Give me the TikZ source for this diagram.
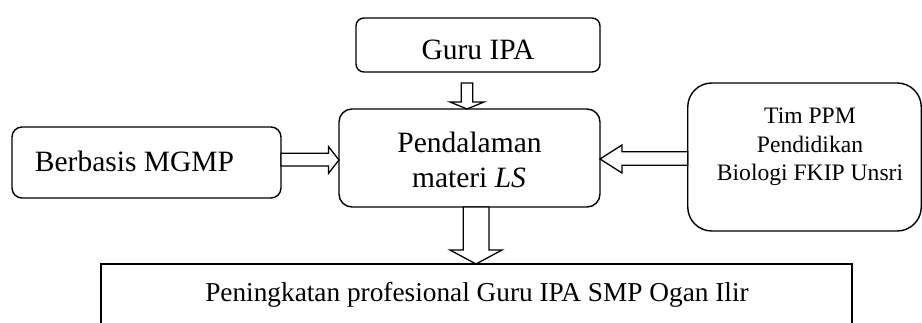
\documentclass[tikz,border=0pt]{standalone}
\usepackage{fontspec}
\setmainfont{Liberation Serif}
\usetikzlibrary{calc}
\tikzset{
  box/.style={draw, line width=1.4pt, inner sep=0pt, outer sep=0pt},
  blockarr/.style={draw, line width=1.3pt, fill=white, line join=miter},
  lbl/.style={anchor=base, inner sep=0pt, outer sep=0pt},
  mainfont/.style={font=\fontsize{29.5}{35}\selectfont},
  timfont/.style={font=\fontsize{23.6}{28}\selectfont},
  botfont/.style={font=\fontsize{27.3}{32}\selectfont}
}
\begin{document}
\begin{tikzpicture}[x=1pt,y=1pt]
\useasboundingbox (0,0) rectangle (922,322);
% boxes
\node[box, rounded corners=8pt, minimum width=244pt, minimum height=54pt] (guru) at (478,277) {};
\node[box, rounded corners=13pt, minimum width=261pt, minimum height=98pt] (pend) at (469.5,164) {};
\node[box, rounded corners=10pt, minimum width=269pt, minimum height=71pt] (berb) at (146.5,159.5) {};
\node[box, rounded corners=24pt, minimum width=233.5pt, minimum height=148pt] (tim) at (804.5,165) {};
\node[box, minimum width=751pt, minimum height=120pt] (outc) at (476.5,-2) {};
% labels
\node[lbl, mainfont] (tguru) at (478,262) {Guru IPA};
\node[lbl, mainfont] (tpend1) at (469.5,169) {Pendalaman};
\node[lbl, mainfont] (tpend2) at (469,135) {materi \textit{LS}};
\node[lbl, mainfont] (tberb) at (134.5,151) {Berbasis MGMP};
\node[lbl, timfont] (ttim1) at (810,198) {Tim PPM};
\node[lbl, timfont] (ttim2) at (810,170) {Pendidikan};
\node[lbl, timfont] (ttim3) at (810,142) {Biologi FKIP Unsri};
\node[lbl, botfont] (toutc) at (477,21) {Peningkatan profesional Guru IPA SMP Ogan Ilir};
% block arrows
\draw[blockarr] let \p1=(guru.south), \p2=(pend.north) in
  (461.2pt,\y1-11pt) -- (461.2pt,\y2+7pt) -- (450pt,\y2+7pt) -- (467pt,\y2) --
  (484pt,\y2+7pt) -- (472.8pt,\y2+7pt) -- (472.8pt,\y1-11pt) -- cycle;
\draw[blockarr] let \p1=(berb.east), \p2=(pend.west) in
  (\x1,168.7pt) -- (\x2-10.5pt,168.7pt) -- (\x2-10.5pt,175.3pt) -- (\x2,162pt) --
  (\x2-10.5pt,148.7pt) -- (\x2-10.5pt,156pt) -- (\x1,156pt) -- cycle;
\draw[blockarr] let \p1=(tim.west), \p2=(pend.east) in
  (\x1,170.3pt) -- (\x2+22pt,170.3pt) -- (\x2+22pt,177pt) -- (\x2,163pt) --
  (\x2+22pt,149pt) -- (\x2+22pt,156.7pt) -- (\x1,156.7pt) -- cycle;
\draw[blockarr] let \p1=(pend.south), \p2=(outc.north) in
  (463.3pt,\y1) -- (463.3pt,\y2+14pt) -- (450pt,\y2+14pt) -- (476pt,\y2) --
  (502pt,\y2+14pt) -- (489pt,\y2+14pt) -- (489pt,\y1) -- cycle;
\end{tikzpicture}
\end{document}
